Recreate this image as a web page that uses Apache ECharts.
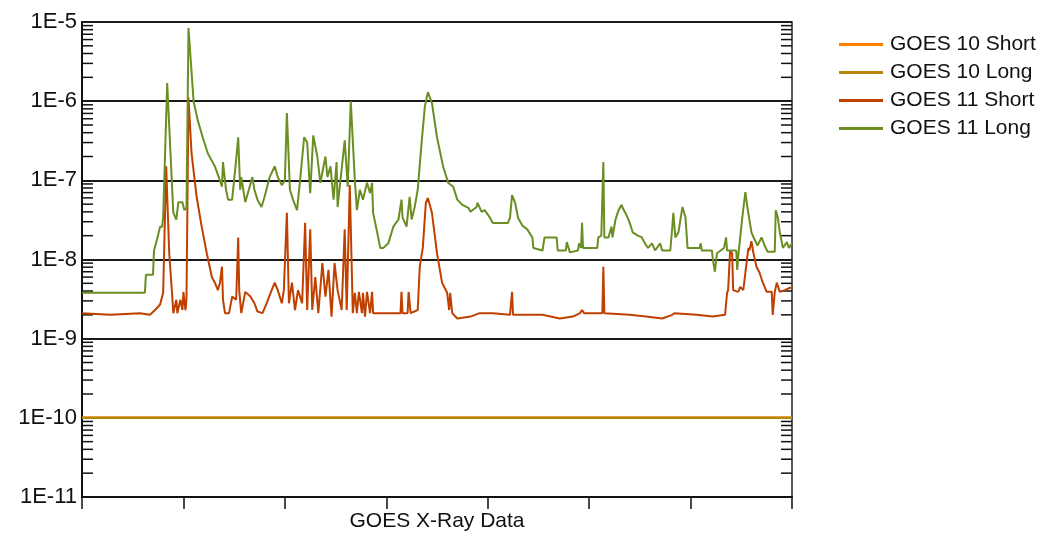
<!DOCTYPE html>
<html>
<head>
<meta charset="utf-8">
<script src="https://cdn.jsdelivr.net/npm/echarts@6/dist/echarts.min.js"></script>
<style>
html,body{margin:0;padding:0;background:#fff;}
#chart{width:1046px;height:536px;}
</style>
</head>
<body>
<div id="chart"></div>
<script>
// Series names
const seriesNames = ['GOES 10 Short', 'GOES 10 Long', 'GOES 11 Short', 'GOES 11 Long'];
// X axis: sample index range, 7 tick intervals
const xMin = 0, xMax = 700, xStep = 100;
// Y axis decades (log scale)
const yMin = 1e-11, yMax = 1e-5;

// GOES 10 Short / Long: flat at 1E-10
const goes10Short = [[0, 1e-10], [700, 1e-10]];
const goes10Long = [[0, 1e-10], [700, 1e-10]];

// GOES 11 Short  [x, flux]
const goes11Short = [
  [0,2.1e-9],[28,2.0e-9],[57,2.1e-9],[67,2.0e-9],[72,2.3e-9],[77,2.7e-9],[80,3.8e-9],[83,1.5e-7],[86,1.2e-8],[89,3.4e-9],
  [90,2.1e-9],[93,3.1e-9],[94,2.1e-9],[97,3.1e-9],[99,2.3e-9],[100,3.9e-9],[102,2.3e-9],[103,3.1e-9],[105,1.1e-6],[108,2.2e-7],
  [113,6.2e-8],[118,2.6e-8],[123,1.2e-8],[128,6.0e-9],[131,5.1e-9],[134,4.1e-9],[136,5.1e-9],[138,8.1e-9],[139,3.1e-9],[141,2.1e-9],
  [145,2.1e-9],[148,3.4e-9],[152,3.1e-9],[154,1.9e-8],[155,4.1e-9],[157,2.1e-9],[161,3.9e-9],[166,3.4e-9],[170,2.8e-9],[173,2.2e-9],
  [178,2.1e-9],[182,2.8e-9],[187,4.1e-9],[190,5.1e-9],[193,4.1e-9],[197,2.8e-9],[199,4.1e-9],[202,3.9e-8],[204,2.8e-9],[207,5.1e-9],
  [210,2.3e-9],[213,4.1e-9],[217,2.8e-9],[220,2.9e-8],[222,2.3e-9],[225,2.4e-8],[227,2.3e-9],[230,6.0e-9],[233,2.1e-9],[237,9.0e-9],
  [240,3.4e-9],[243,7.4e-9],[246,1.9e-9],[249,9.0e-9],[252,4.1e-9],[256,2.3e-9],[259,2.4e-8],[261,2.3e-9],[264,8.7e-8],[267,2.1e-9],
  [269,3.8e-9],[271,2.1e-9],[273,3.9e-9],[276,2.1e-9],[277,3.8e-9],[279,1.9e-9],[281,3.9e-9],[284,2.1e-9],[286,3.9e-9],[287,2.1e-9],
  [314,2.1e-9],[315,3.9e-9],[316,2.1e-9],[321,2.1e-9],[322,3.9e-9],[324,2.1e-9],[331,2.3e-9],[333,8.1e-9],[336,1.4e-8],[339,5.2e-8],
  [341,6.0e-8],[345,3.9e-8],[350,1.2e-8],[355,5.1e-9],[360,3.8e-9],[362,2.3e-9],[363,3.8e-9],[365,2.1e-9],[370,1.8e-9],[383,1.9e-9],
  [392,2.1e-9],[405,2.1e-9],[422,2.0e-9],[423,2.1e-9],[424,3.9e-9],[425,2.0e-9],[439,2.0e-9],[454,2.0e-9],[471,1.8e-9],[484,1.9e-9],
  [491,2.1e-9],[493,2.3e-9],[495,2.1e-9],[513,2.1e-9],[514,8.1e-9],[515,2.1e-9],[540,2.0e-9],[556,1.9e-9],[572,1.8e-9],[582,2.0e-9],
  [584,2.1e-9],[606,2.0e-9],[622,1.9e-9],[634,2.0e-9],[636,3.8e-9],[637,4.1e-9],[639,1.3e-8],[641,1.2e-8],[642,4.1e-9],[647,3.9e-9],
  [649,4.5e-9],[652,4.1e-9],[656,1.1e-8],[657,1.4e-8],[658,1.3e-8],[660,1.7e-8],[662,1.2e-8],[665,8.1e-9],[668,6.8e-9],[671,5.2e-9],
  [675,3.9e-9],[680,3.9e-9],[681,2.0e-9],[683,3.9e-9],[685,5.1e-9],[688,3.9e-9],[693,4.1e-9],[698,4.4e-9],[700,4.4e-9]
];

// GOES 11 Long  [x, flux]
const goes11Long = [
  [0,3.8e-9],[62,3.8e-9],[63,6.4e-9],[70,6.4e-9],[71,1.3e-8],[74,1.8e-8],[77,2.6e-8],[79,2.6e-8],[80,3.4e-8],[84,1.7e-6],
  [90,3.9e-8],[93,3.2e-8],[95,5.3e-8],[99,5.3e-8],[101,4.2e-8],[103,4.5e-8],[105,8.4e-6],[110,1.0e-6],[114,5.8e-7],[119,3.5e-7],
  [124,2.2e-7],[131,1.5e-7],[136,1.0e-7],[138,8.3e-8],[139,1.7e-7],[142,7.6e-8],[144,5.7e-8],[148,5.7e-8],[151,1.35e-7],[154,3.5e-7],
  [156,7.6e-8],[157,1.1e-7],[161,5.3e-8],[168,1.1e-7],[170,7.6e-8],[173,5.7e-8],[177,4.6e-8],[180,6.2e-8],[185,1.1e-7],[190,1.5e-7],
  [193,1.1e-7],[197,8.7e-8],[200,1.0e-7],[202,7.1e-7],[205,7.6e-8],[208,5.7e-8],[212,4.2e-8],[215,1.0e-7],[219,3.5e-7],[222,3.0e-7],
  [225,6.9e-8],[228,3.7e-7],[232,2.0e-7],[235,9.3e-8],[240,2.0e-7],[242,1.1e-7],[245,1.5e-7],[248,5.7e-8],[251,1.7e-7],[252,4.6e-8],
  [259,3.2e-7],[262,8.3e-8],[265,1.0e-6],[269,1.0e-7],[271,4.2e-8],[274,7.6e-8],[277,5.7e-8],[281,9.3e-8],[284,6.9e-8],[286,9.3e-8],
  [287,3.9e-8],[291,2.2e-8],[294,1.4e-8],[297,1.4e-8],[302,1.6e-8],[307,2.6e-8],[312,3.2e-8],[315,5.7e-8],[316,3.4e-8],[320,2.6e-8],
  [323,6.2e-8],[325,3.2e-8],[328,4.6e-8],[331,7.6e-8],[335,3.2e-7],[338,8.5e-7],[341,1.3e-6],[345,9.5e-7],[350,3.5e-7],[356,1.5e-7],
  [361,9.3e-8],[366,8.3e-8],[370,5.7e-8],[375,4.9e-8],[381,4.5e-8],[383,4.0e-8],[389,4.6e-8],[390,5.2e-8],[394,4.0e-8],[397,4.2e-8],
  [402,3.4e-8],[405,2.9e-8],[420,2.9e-8],[422,3.4e-8],[424,6.5e-8],[427,5.2e-8],[430,3.35e-8],[434,2.7e-8],[439,2.4e-8],[444,1.9e-8],
  [445,1.4e-8],[454,1.3e-8],[456,1.9e-8],[468,1.9e-8],[469,1.3e-8],[477,1.3e-8],[478,1.66e-8],[481,1.23e-8],[489,1.3e-8],[490,1.6e-8],
  [492,1.4e-8],[493,2.9e-8],[494,1.4e-8],[508,1.4e-8],[509,1.9e-8],[512,2.0e-8],[514,1.7e-7],[515,1.9e-8],[519,1.9e-8],[522,2.6e-8],
  [523,1.9e-8],[526,3.2e-8],[529,4.2e-8],[532,4.9e-8],[533,4.5e-8],[537,3.6e-8],[540,2.9e-8],[543,2.2e-8],[548,2.0e-8],[552,1.9e-8],
  [555,1.6e-8],[558,1.4e-8],[562,1.6e-8],[565,1.3e-8],[570,1.6e-8],[572,1.3e-8],[580,1.3e-8],[582,2.6e-8],[583,3.9e-8],[585,1.9e-8],
  [588,2.2e-8],[592,4.6e-8],[595,3.4e-8],[597,1.4e-8],[609,1.4e-8],[610,1.6e-8],[611,1.3e-8],[621,1.3e-8],[622,1.0e-8],[624,7.0e-9],
  [626,1.2e-8],[633,1.4e-8],[635,1.9e-8],[636,1.3e-8],[645,1.3e-8],[646,7.4e-9],[647,1.1e-8],[651,3.4e-8],[654,7.1e-8],[656,4.6e-8],
  [660,2.2e-8],[663,1.8e-8],[666,1.5e-8],[670,1.9e-8],[673,1.5e-8],[676,1.25e-8],[683,1.25e-8],[684,4.2e-8],[686,3.4e-8],[688,2.2e-8],
  [691,1.4e-8],[695,1.66e-8],[697,1.4e-8],[700,1.6e-8]
];

const colors = ['rgb(255,128,0)', '#B8860B', 'rgb(192,64,0)', '#6B8E23'];

// Minor log ticks (2..9 in each decade) for the frame's inner tick marks
const decades = [-11, -10, -9, -8, -7, -6];
const mantissas = [2, 3, 4, 5, 6, 7, 8, 9];
const minorTickValues = [];
decades.forEach(function (d) { mantissas.forEach(function (m) { minorTickValues.push([0, m * Math.pow(10, d)]); }); });

const chart = echarts.init(document.getElementById('chart'), null, {renderer: 'canvas'});
const fontFam = '"Liberation Sans", Arial, sans-serif';

function lineSeries(name, data, color, z, width) {
  return {
    name: name, type: 'line', data: data, showSymbol: false, symbol: 'none',
    lineStyle: {color: color, width: width}, itemStyle: {color: color},
    z: z, animation: false, clip: true
  };
}

chart.setOption({
  animation: false,
  backgroundColor: '#fff',
  grid: {left: 82, right: 254, top: 22, bottom: 39, containLabel: false, outerBoundsMode: 'none',
         show: true, borderColor: '#222', borderWidth: 1.5, backgroundColor: 'transparent'},
  legend: {
    orient: 'vertical', left: 834, top: 29, itemGap: 7,
    itemWidth: 44, itemHeight: 3, icon: 'rect',
    data: seriesNames,
    textStyle: {fontSize: 21, lineHeight: 21, color: '#111', fontFamily: fontFam, padding: [0, 0, 0, 2]},
    selectedMode: false
  },
  xAxis: {
    type: 'value', min: xMin, max: xMax, interval: xStep,
    name: 'GOES X-Ray Data', nameLocation: 'middle', nameGap: 14,
    nameTextStyle: {fontSize: 21, color: '#111', fontFamily: fontFam, verticalAlign: 'top'},
    axisLine: {show: true, lineStyle: {color: '#111', width: 2}},
    axisTick: {show: true, inside: false, length: 12, lineStyle: {color: '#111', width: 1.5}},
    axisLabel: {show: false},
    splitLine: {show: false}
  },
  yAxis: {
    type: 'log', logBase: 10, min: yMin, max: yMax, interval: 1,
    axisLine: {show: true, lineStyle: {color: '#111', width: 2}},
    axisTick: {show: false},
    axisLabel: {
      show: true, margin: 5, fontSize: 22, color: '#111', fontFamily: fontFam,
      formatter: function (v) { return '1E' + Math.round(Math.log10(v)); }
    },
    splitLine: {show: true, lineStyle: {color: '#1a1a1a', width: 2}}
  },
  series: [
    {
      name: 'minorTicks', type: 'custom', data: minorTickValues, silent: true, z: 1, animation: false,
      encode: {x: 0, y: 1},
      renderItem: function (params, api) {
        const v = api.value(1);
        const pL = api.coord([xMin, v]);
        const pR = api.coord([xMax, v]);
        const st = {stroke: '#111', lineWidth: 1.5};
        return {type: 'group', children: [
          {type: 'line', shape: {x1: pL[0], y1: pL[1], x2: pL[0] + 11, y2: pL[1]}, style: st},
          {type: 'line', shape: {x1: pR[0], y1: pR[1], x2: pR[0] - 11, y2: pR[1]}, style: st}
        ]};
      }
    },
    lineSeries(seriesNames[0], goes10Short, colors[0], 3, 2.5),
    lineSeries(seriesNames[1], goes10Long, colors[1], 4, 2.5),
    lineSeries(seriesNames[2], goes11Short, colors[2], 5, 2),
    lineSeries(seriesNames[3], goes11Long, colors[3], 6, 2)
  ]
});
</script>
</body>
</html>
